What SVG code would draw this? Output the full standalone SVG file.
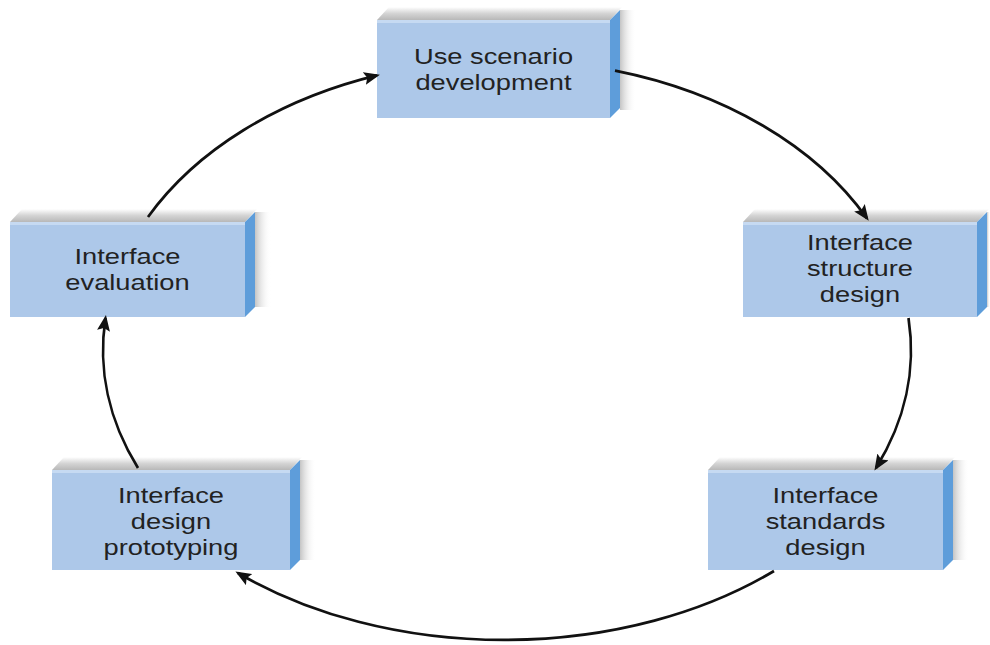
<svg xmlns="http://www.w3.org/2000/svg" width="990" height="645" viewBox="0 0 990 645">
<defs>
<linearGradient id="topg" x1="0" y1="0" x2="0" y2="1">
<stop offset="0" stop-color="#ffffff"/>
<stop offset="0.5" stop-color="#d4d4d4"/>
<stop offset="1" stop-color="#b8b8b8"/>
</linearGradient>
<linearGradient id="shg" x1="0" y1="0" x2="1" y2="0">
<stop offset="0" stop-color="#c4c4c4"/>
<stop offset="1" stop-color="#ffffff" stop-opacity="0"/>
</linearGradient>
<marker id="ah" markerUnits="userSpaceOnUse" markerWidth="16" markerHeight="13" viewBox="0 0 16 13" refX="13" refY="6.5" orient="auto">
<path d="M0,0 L16,6.5 L0,13 L3,6.5 z" fill="#111"/>
</marker>
</defs>
<style>
.front{fill:#adc8e9}
.hl{fill:#c6daf2}
.side{fill:#5e9dda}
.top{fill:url(#topg)}
.sh{fill:url(#shg)}
.lbl{font-family:"Liberation Sans",Arial,sans-serif;font-size:22px;fill:#222;text-anchor:middle}
.con{fill:none;stroke:#111;stroke-width:2.7;marker-end:url(#ah)}
</style>
<rect width="990" height="645" fill="#ffffff"/>

<g id="node-use-scenario">
<polygon class="sh" points="620,10 636,10 636,110 620,110"/>
<polygon class="top" points="377,20 389,7 622,7 610,20"/>
<rect class="front" x="377" y="20" width="233" height="98"/>
<rect class="hl" x="377" y="20" width="233" height="3"/>
<polygon class="side" points="610,20 620,10 620,108 610,118"/>
<text class="lbl" transform="translate(493.5,0) scale(1.24,1)"><tspan x="0" y="64">Use scenario</tspan><tspan x="0" y="90">development</tspan></text>
</g>

<g id="node-structure">
<polygon class="sh" points="987,212 990,212 990,307 987,307"/>
<polygon class="top" points="743,222 755,209 989,209 977,222"/>
<rect class="front" x="743" y="222" width="234" height="95"/>
<rect class="hl" x="743" y="222" width="234" height="3"/>
<polygon class="side" points="977,222 987,212 987,307 977,317"/>
<text class="lbl" transform="translate(860,0) scale(1.24,1)"><tspan x="0" y="250">Interface</tspan><tspan x="0" y="276">structure</tspan><tspan x="0" y="302">design</tspan></text>
</g>

<g id="node-evaluation">
<polygon class="sh" points="255,212 271,212 271,307 255,307"/>
<polygon class="top" points="10,222 22,209 257,209 245,222"/>
<rect class="front" x="10" y="222" width="235" height="95"/>
<rect class="hl" x="10" y="222" width="235" height="3"/>
<polygon class="side" points="245,222 255,212 255,307 245,317"/>
<text class="lbl" transform="translate(127.5,0) scale(1.24,1)"><tspan x="0" y="264">Interface</tspan><tspan x="0" y="290">evaluation</tspan></text>
</g>

<g id="node-prototyping">
<polygon class="sh" points="300,460 316,460 316,560 300,560"/>
<polygon class="top" points="52,470 64,457 302,457 290,470"/>
<rect class="front" x="52" y="470" width="238" height="100"/>
<rect class="hl" x="52" y="470" width="238" height="3"/>
<polygon class="side" points="290,470 300,460 300,560 290,570"/>
<text class="lbl" transform="translate(171,0) scale(1.24,1)"><tspan x="0" y="503">Interface</tspan><tspan x="0" y="529">design</tspan><tspan x="0" y="555">prototyping</tspan></text>
</g>

<g id="node-standards">
<polygon class="sh" points="953,460 969,460 969,560 953,560"/>
<polygon class="top" points="708,470 720,457 955,457 943,470"/>
<rect class="front" x="708" y="470" width="235" height="100"/>
<rect class="hl" x="708" y="470" width="235" height="3"/>
<polygon class="side" points="943,470 953,460 953,560 943,570"/>
<text class="lbl" transform="translate(825.5,0) scale(1.24,1)"><tspan x="0" y="503">Interface</tspan><tspan x="0" y="529">standards</tspan><tspan x="0" y="555">design</tspan></text>
</g>

<g id="connectors">
<path class="con" d="M148,217 A404,290 0 0,1 377,75.4"/>
<path class="con" d="M615,70.6 A404,290 0 0,1 867,218.4"/>
<path class="con" d="M908.5,318 A404,290 0 0,1 876,468"/>
<path class="con" d="M774,571 A404,270 0 0,1 238,573"/>
<path class="con" d="M138,468 A404,290 0 0,1 105.5,318"/>
</g>
</svg>
